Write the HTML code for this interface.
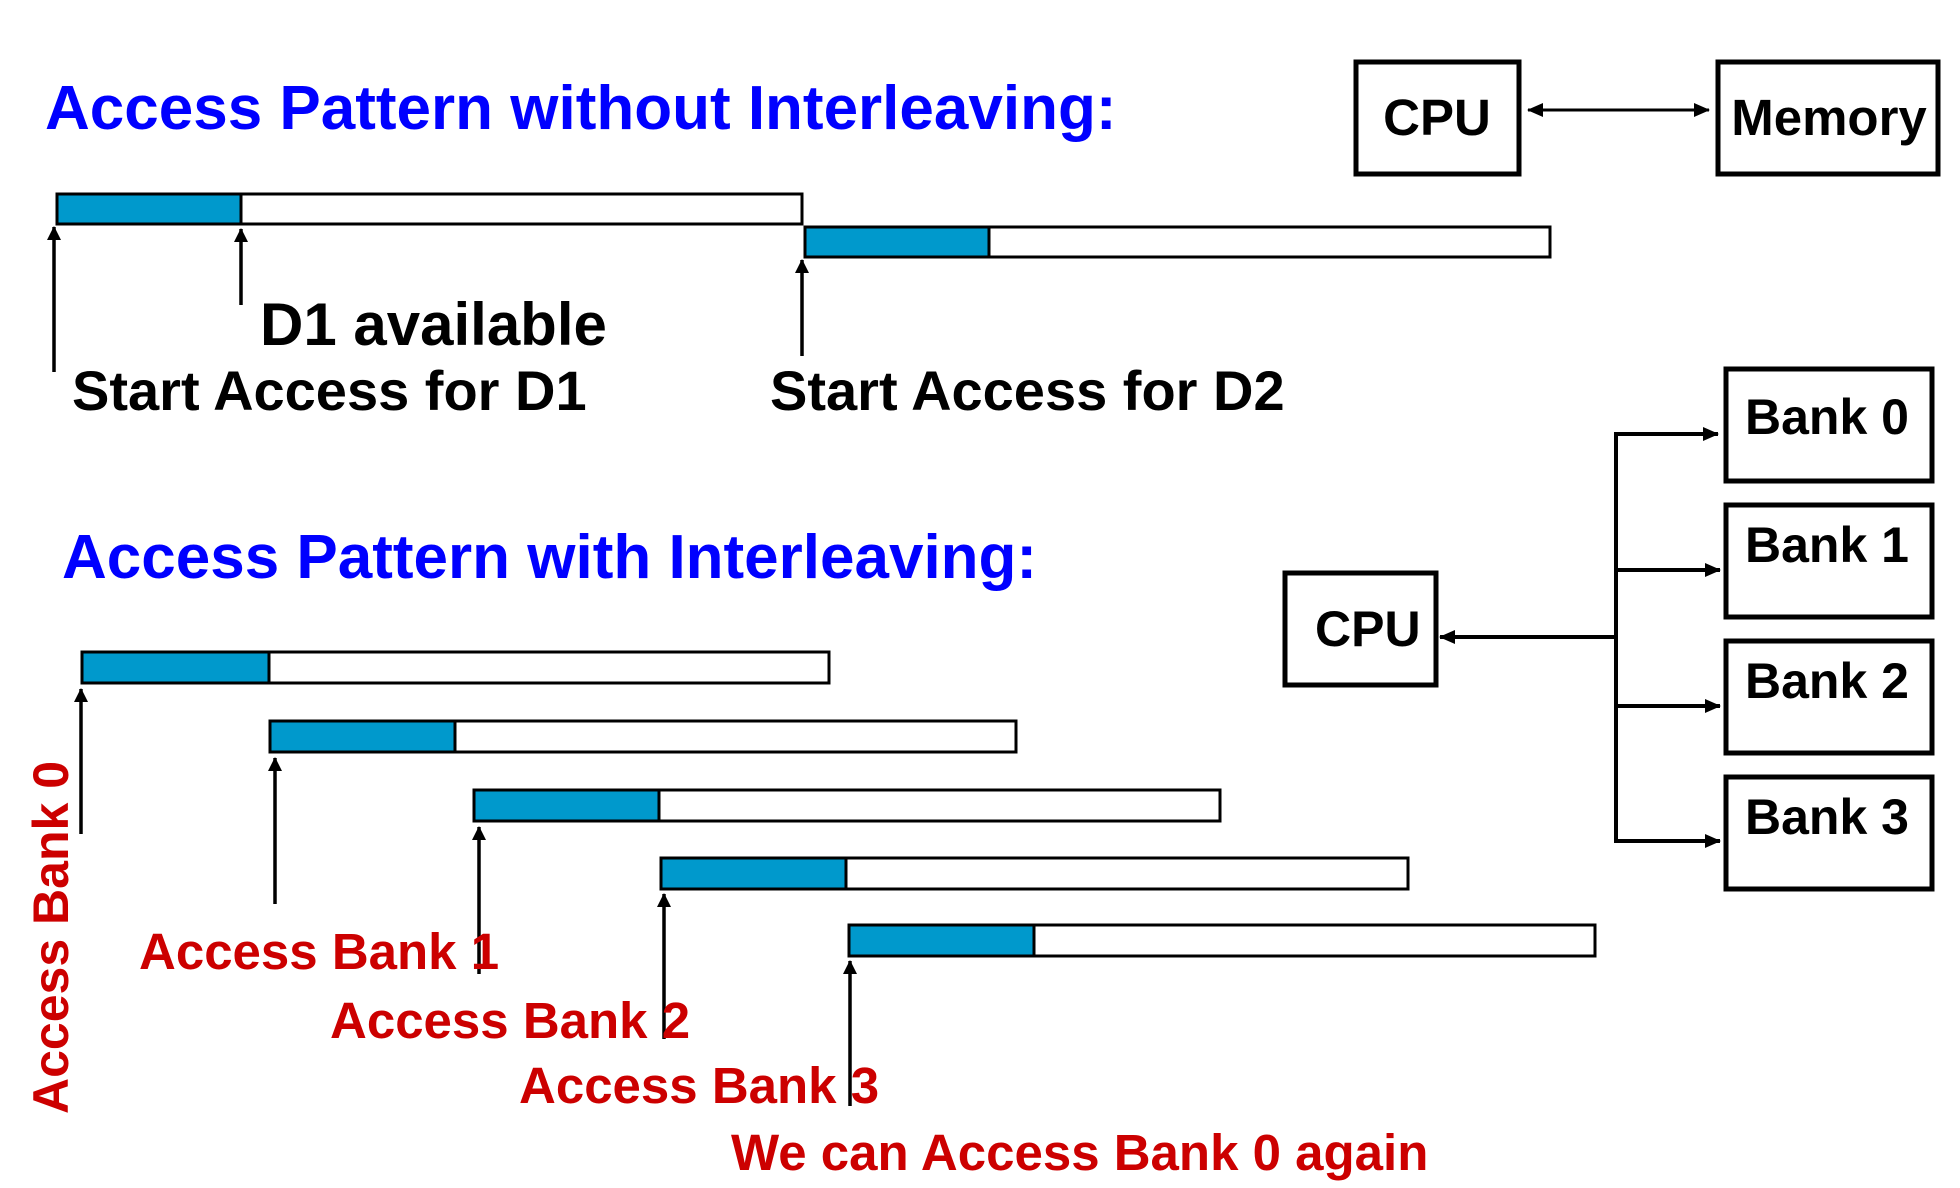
<!DOCTYPE html>
<html><head><meta charset="utf-8"><style>
html,body{margin:0;padding:0;background:#fff;}
svg{display:block;}
text{font-family:"Liberation Sans",sans-serif;font-weight:bold;}
</style></head><body>
<svg width="1960" height="1188" viewBox="0 0 1960 1188" xmlns="http://www.w3.org/2000/svg">
<defs>
<marker id="ah" markerWidth="14" markerHeight="14" refX="13" refY="7" orient="auto" markerUnits="userSpaceOnUse">
<path d="M0,0 L14,7 L0,14 Z" fill="#000"/></marker>
<marker id="ah2" markerWidth="16" markerHeight="14" refX="15" refY="7" orient="auto-start-reverse" markerUnits="userSpaceOnUse">
<path d="M0,0 L16,7 L0,14 Z" fill="#000"/></marker>
</defs>
<text x="45" y="129" font-size="62" fill="#0000ff">Access Pattern without Interleaving:</text>
<text x="62" y="578" font-size="62" fill="#0000ff">Access Pattern with Interleaving:</text>

<rect x="1356" y="62" width="163" height="112" fill="#fff" stroke="#000" stroke-width="5"/>
<text x="1437" y="135" font-size="51" text-anchor="middle">CPU</text>
<rect x="1718" y="62" width="220" height="112" fill="#fff" stroke="#000" stroke-width="5"/>
<text x="1829" y="135" font-size="51" text-anchor="middle">Memory</text>
<line x1="1528" y1="110" x2="1709" y2="110" stroke="#000" stroke-width="3" marker-start="url(#ah2)" marker-end="url(#ah2)"/>

<g stroke="#000" stroke-width="3">
<rect x="57" y="194" width="745" height="30" fill="#fff"/>
<rect x="57" y="194" width="184" height="30" fill="#0099cc"/>
<rect x="805" y="227" width="745" height="30" fill="#fff"/>
<rect x="805" y="227" width="184" height="30" fill="#0099cc"/>
</g>
<g stroke="#000" stroke-width="3.5">
<line x1="54" y1="372" x2="54" y2="227" marker-end="url(#ah)"/>
<line x1="241" y1="305" x2="241" y2="229" marker-end="url(#ah)"/>
<line x1="802" y1="356" x2="802" y2="260" marker-end="url(#ah)"/>
</g>
<text x="260" y="345" font-size="60">D1 available</text>
<text x="72" y="410" font-size="56">Start Access for D1</text>
<text x="770" y="410" font-size="56">Start Access for D2</text>

<g fill="#fff" stroke="#000" stroke-width="5">
<rect x="1726" y="369" width="206" height="112"/>
<rect x="1726" y="505" width="206" height="112"/>
<rect x="1726" y="641" width="206" height="112"/>
<rect x="1726" y="777" width="206" height="112"/>
<rect x="1285" y="573" width="151" height="112"/>
</g>
<g font-size="50">
<text x="1745" y="434">Bank 0</text>
<text x="1745" y="562">Bank 1</text>
<text x="1745" y="698">Bank 2</text>
<text x="1745" y="834">Bank 3</text>
<text x="1315" y="646">CPU</text>
</g>
<g stroke="#000" stroke-width="4" fill="none">
<line x1="1616" y1="432" x2="1616" y2="843"/>
<line x1="1614" y1="434" x2="1718" y2="434" marker-end="url(#ah2)"/>
<line x1="1614" y1="570" x2="1720" y2="570" marker-end="url(#ah2)"/>
<line x1="1614" y1="706" x2="1720" y2="706" marker-end="url(#ah2)"/>
<line x1="1614" y1="841" x2="1720" y2="841" marker-end="url(#ah2)"/>
<line x1="1616" y1="637" x2="1440" y2="637" marker-end="url(#ah2)"/>
</g>

<g stroke="#000" stroke-width="3">
<rect x="82" y="652" width="747" height="31" fill="#fff"/><rect x="82" y="652" width="187" height="31" fill="#0099cc"/>
<rect x="270" y="721" width="746" height="31" fill="#fff"/><rect x="270" y="721" width="185" height="31" fill="#0099cc"/>
<rect x="474" y="790" width="746" height="31" fill="#fff"/><rect x="474" y="790" width="185" height="31" fill="#0099cc"/>
<rect x="661" y="858" width="747" height="31" fill="#fff"/><rect x="661" y="858" width="185" height="31" fill="#0099cc"/>
<rect x="849" y="925" width="746" height="31" fill="#fff"/><rect x="849" y="925" width="185" height="31" fill="#0099cc"/>
</g>
<g stroke="#000" stroke-width="3.5">
<line x1="81" y1="834" x2="81" y2="689" marker-end="url(#ah)"/>
<line x1="275" y1="904" x2="275" y2="758" marker-end="url(#ah)"/>
<line x1="479" y1="974" x2="479" y2="827" marker-end="url(#ah)"/>
<line x1="664" y1="1039" x2="664" y2="894" marker-end="url(#ah)"/>
<line x1="850" y1="1106" x2="850" y2="961" marker-end="url(#ah)"/>
</g>
<g fill="#cc0000" font-size="51">
<text x="139" y="969">Access Bank 1</text>
<text x="330" y="1038">Access Bank 2</text>
<text x="519" y="1103">Access Bank 3</text>
<text x="731" y="1170">We can Access Bank 0 again</text>
<text transform="translate(68,1114) rotate(-90)" font-size="50">Access Bank 0</text>
</g>
</svg>
</body></html>
